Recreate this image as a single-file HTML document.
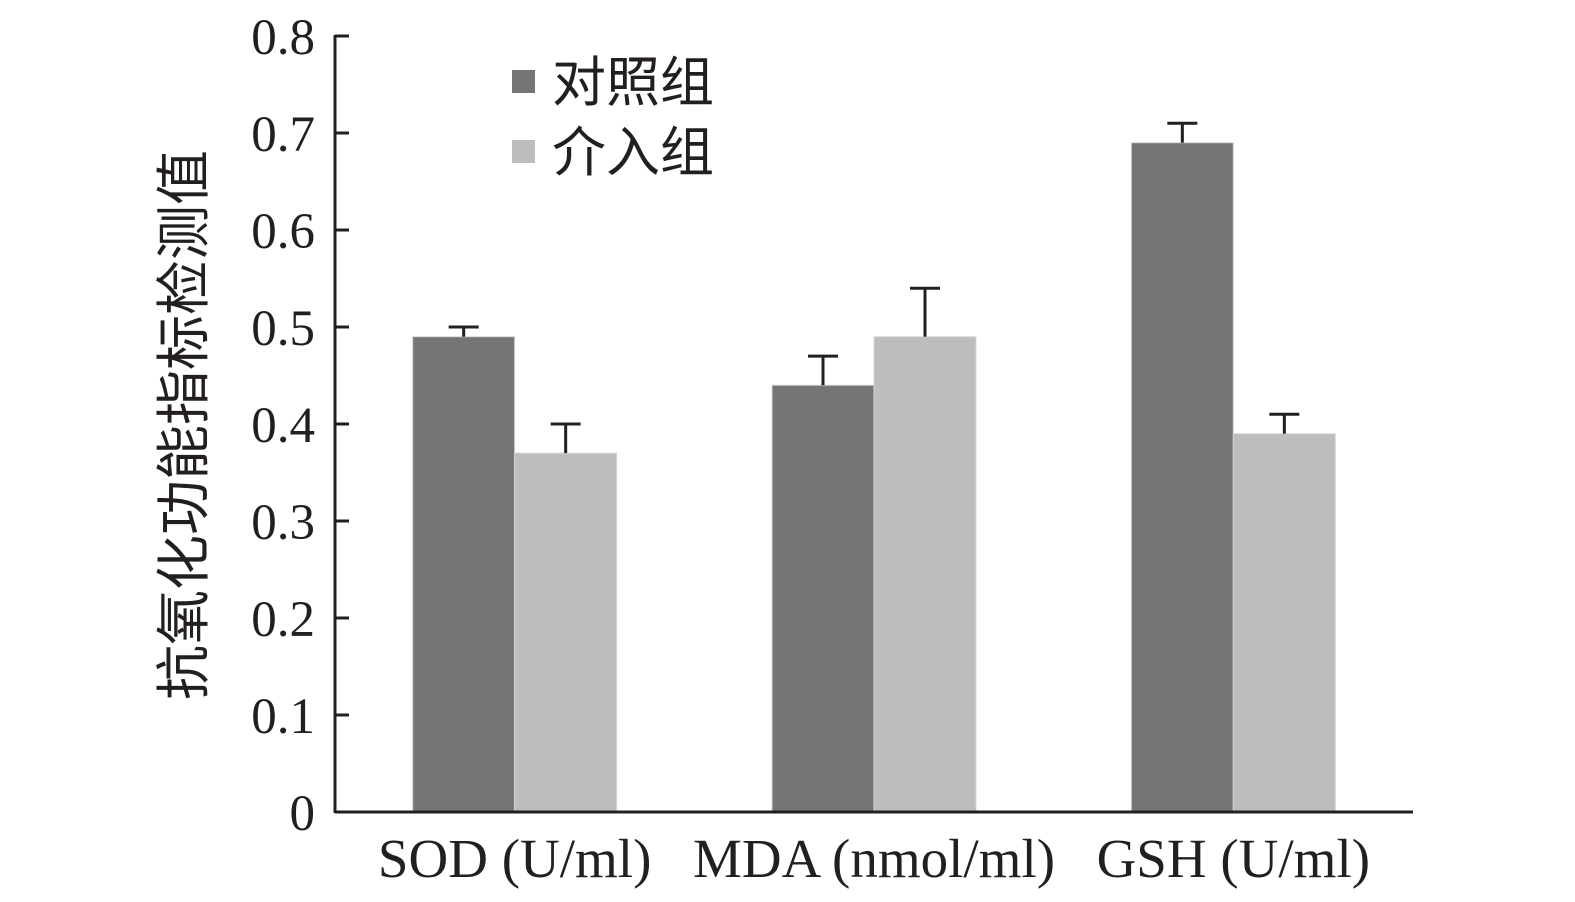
<!DOCTYPE html>
<html><head><meta charset="utf-8"><style>
body{margin:0;background:#fff}
svg{display:block;font-family:"Liberation Serif","Noto Serif CJK SC",serif}
</style></head><body>
<svg width="1575" height="902" xmlns="http://www.w3.org/2000/svg">
<g id="plot"></g>
</svg>
<script>
const categories=["SOD (U/ml)","MDA (nmol/ml)","GSH (U/ml)"];
const controlValues=[0.49,0.44,0.69];
const controlErrors=[0.01,0.03,0.02];
const interventionValues=[0.37,0.49,0.39];
const interventionErrors=[0.03,0.05,0.02];
const yTicks=["0","0.1","0.2","0.3","0.4","0.5","0.6","0.7","0.8"];
const seriesNames=["对照组","介入组"];

const NS="http://www.w3.org/2000/svg";
const g=document.getElementById('plot');
const x0=335,x1=1413,yBase=812,yTop=36,yMax=0.8;
const y=v=>yBase-(v/yMax)*(yBase-yTop);
const band=(x1-x0)/categories.length;
const cx=i=>x0+band*(i+0.5);
const bw=102;
function mk(tag,attrs,name){const e=document.createElementNS(NS,tag);for(const k in attrs)e.setAttribute(k,attrs[k]);


g.appendChild(e);return e;}
const colors=["#777475","#bdbdbd"];
const vals=[controlValues,interventionValues],errs=[controlErrors,interventionErrors];
categories.forEach((c,i)=>{
 [0,1].forEach(s=>{
  const left=s===0?cx(i)-bw:cx(i);
  const v=vals[s][i],e=errs[s][i];
  mk('rect',{x:left,y:y(v),width:bw,height:yBase-y(v),fill:colors[s],stroke:"#d8d8d8","stroke-width":1},'bar-'+(s===0?'control':'intervention')+'-'+i);
  const mx=left+bw/2;
  mk('line',{x1:mx,x2:mx,y1:y(v),y2:y(v+e),stroke:"#231f20","stroke-width":3},'error-bar-'+s+'-'+i);
  mk('line',{x1:mx-15,x2:mx+15,y1:y(v+e),y2:y(v+e),stroke:"#231f20","stroke-width":3},'error-cap-'+s+'-'+i);
 });
 const t=mk('text',{x:cx(i),y:877,"text-anchor":"middle","font-size":55,fill:"#231f20"},'x-tick-label');t.textContent=c;
});
mk('line',{x1:x0,x2:x0,y1:yTop-1,y2:yBase+1,stroke:"#231f20","stroke-width":3},'y-axis');
mk('line',{x1:x0,x2:x1,y1:yBase,y2:yBase,stroke:"#231f20","stroke-width":3},'x-axis');
yTicks.forEach((t,i)=>{
 const v=i*0.1,yy=y(v);
 mk('line',{x1:x0,x2:x0+14,y1:yy,y2:yy,stroke:"#231f20","stroke-width":3},'y-tick');
 const e=mk('text',{x:315,y:yy+18,"text-anchor":"end","font-size":51,fill:"#231f20"},'y-tick-label');e.textContent=t;
});
const yt=mk('text',{x:0,y:0,transform:"translate(203,425) rotate(-90)","text-anchor":"middle","font-size":55,fill:"#231f20","font-family":"Noto Sans CJK SC, sans-serif"},'y-axis-title');yt.textContent="抗氧化功能指标检测值";
seriesNames.forEach((n,s)=>{
 const yy=70+s*70;
 mk('rect',{x:512,y:yy,width:23,height:23,fill:colors[s]},'legend-swatch-'+s);
 const t=mk('text',{x:552,y:yy+31,"font-size":54,fill:"#231f20","font-family":"Noto Sans CJK SC, sans-serif"},'legend-entry-'+s);t.textContent=n;
});
</script>
</body></html>
